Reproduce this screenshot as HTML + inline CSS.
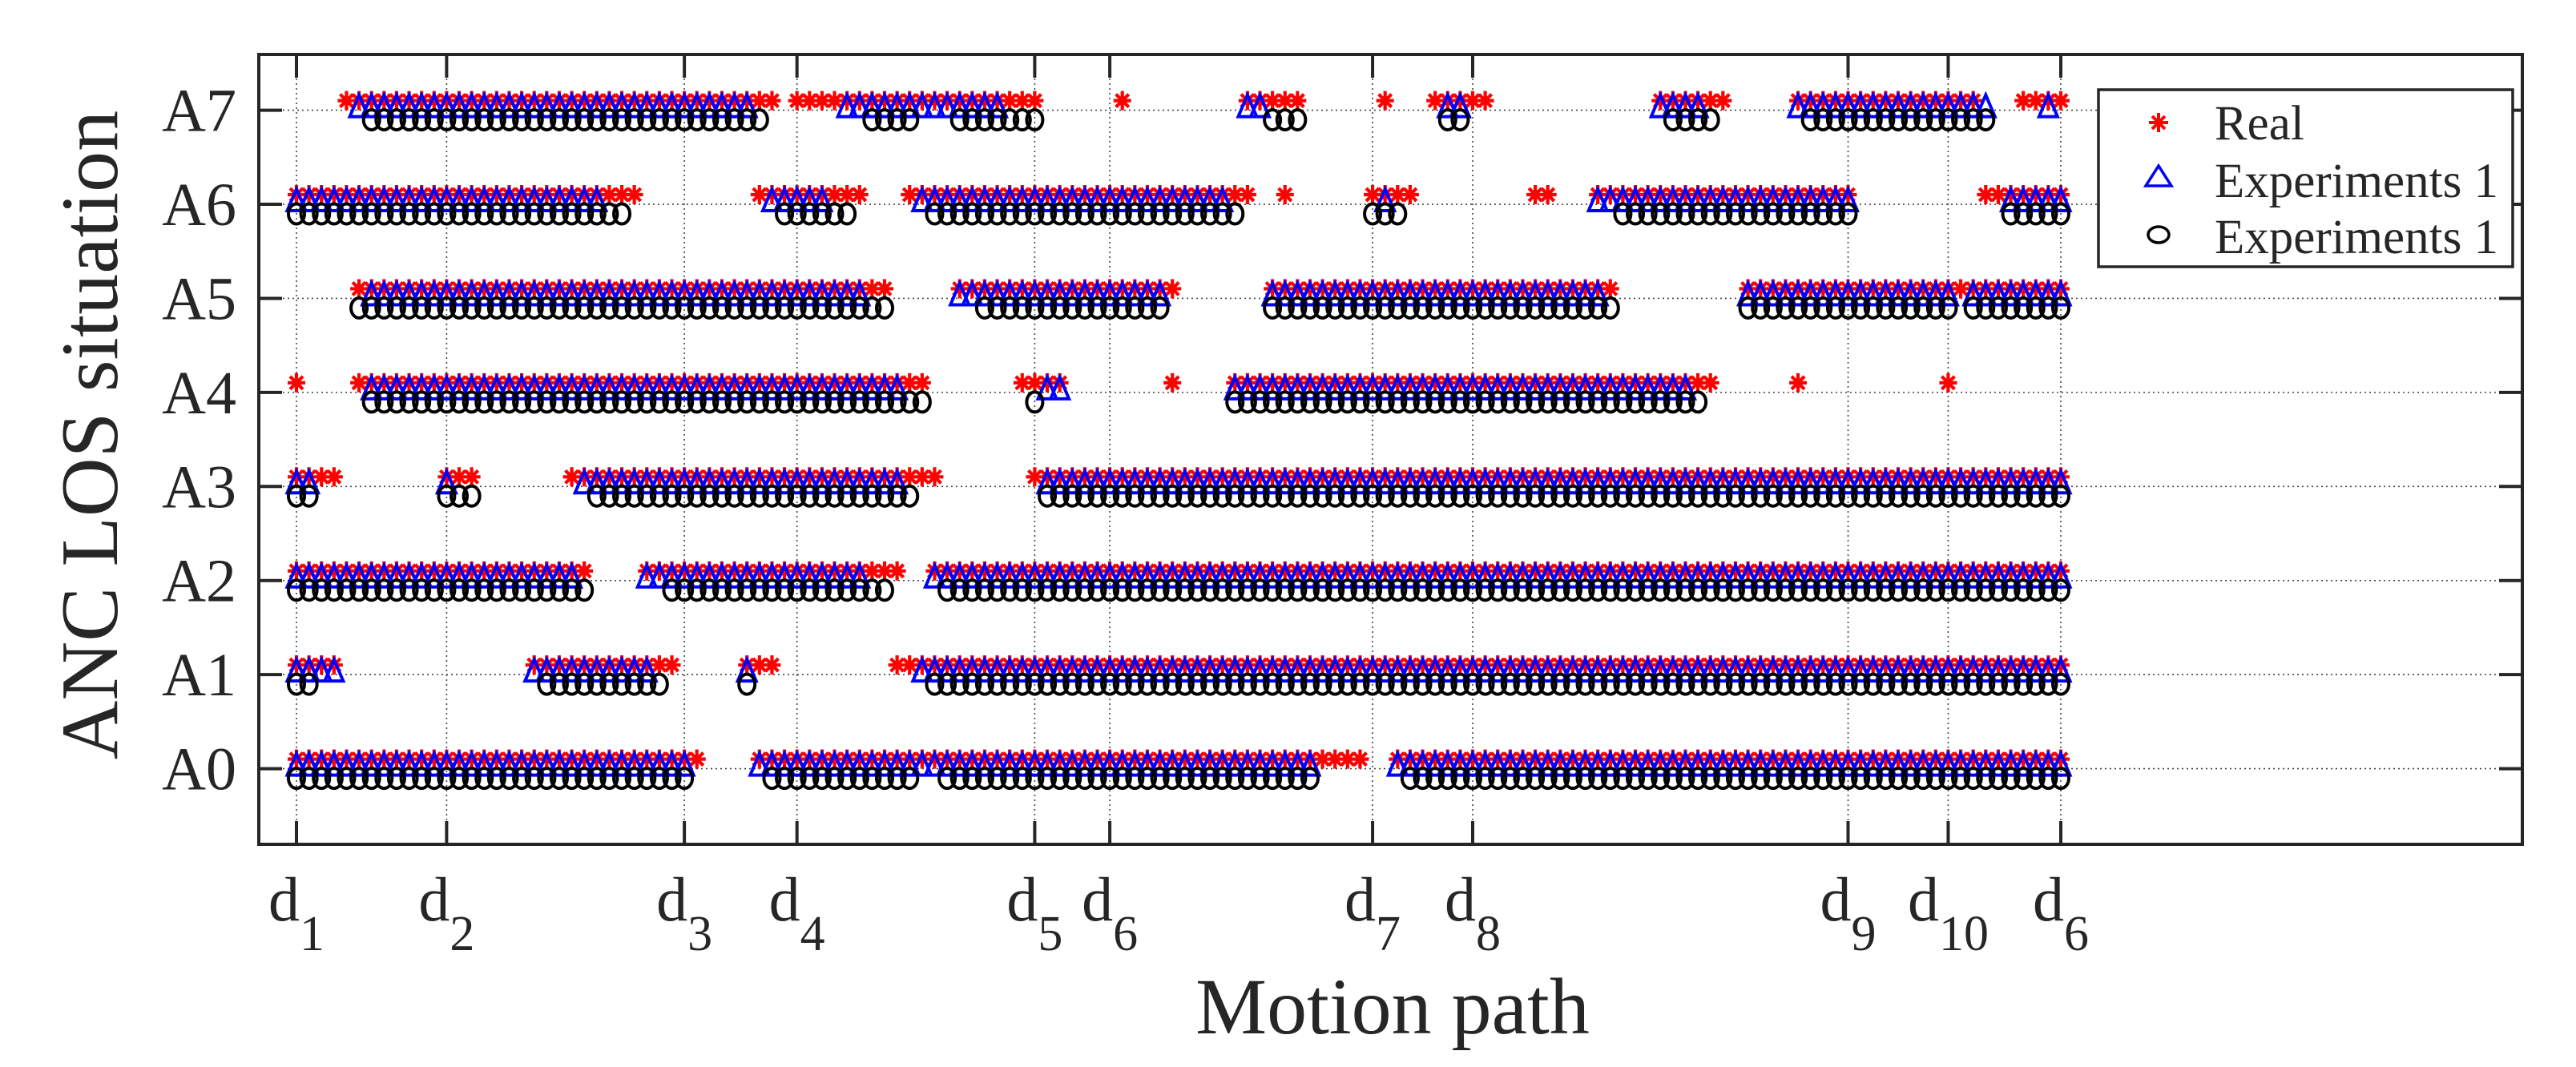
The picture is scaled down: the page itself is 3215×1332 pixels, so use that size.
<!DOCTYPE html>
<html><head><meta charset="utf-8">
<style>
html,body{margin:0;padding:0;background:#fff;}
svg{display:block;}
text{font-family:"Liberation Serif","Times New Roman",serif;fill:#262626;}
</style></head>
<body>
<svg id="s" width="3215" height="1332" viewBox="0 0 3215 1332" xmlns="http://www.w3.org/2000/svg">
<rect x="0" y="0" width="3215" height="1332" fill="#fff"/>
<g id="grid" stroke="#444" stroke-width="1.6" stroke-dasharray="2 4" fill="none"></g>
<g id="ticks" stroke="#262626" stroke-width="4" fill="none"></g>
<g id="stars" stroke="#ff0000" stroke-width="4.2" fill="none"></g>
<g id="tris" stroke="#0000ff" stroke-width="4" fill="none" stroke-linejoin="miter"></g>
<g id="circs" stroke="#000" stroke-width="4" fill="none"></g>
<rect x="323" y="68" width="2825" height="986" fill="none" stroke="#262626" stroke-width="4"/>
<g id="ylab" font-size="76" text-anchor="end"></g>
<g id="xlab" font-size="78" text-anchor="middle"></g>
<text x="0" y="0" font-size="102" text-anchor="middle" transform="translate(146,543) rotate(-90)">ANC LOS situation</text>
<text x="1738" y="1290" font-size="100" text-anchor="middle">Motion path</text>
<!-- legend -->
<rect x="2619" y="112" width="517" height="221" fill="#fff" stroke="#262626" stroke-width="3.5"/>
<g stroke="#ff0000" stroke-width="4">
<line x1="2682" y1="153" x2="2706" y2="153"/><line x1="2694" y1="141" x2="2694" y2="165"/>
<line x1="2686" y1="145" x2="2702" y2="161"/><line x1="2702" y1="145" x2="2686" y2="161"/>
</g>
<polygon points="2694,207 2710,232 2678,232" fill="none" stroke="#0000ff" stroke-width="3.5"/>
<ellipse cx="2694" cy="293" rx="13" ry="10" fill="none" stroke="#000" stroke-width="3.5"/>
<text x="2764" y="174" font-size="61">Real</text>
<text x="2764" y="246" font-size="61">Experiments 1</text>
<text x="2764" y="316" font-size="61">Experiments 1</text>
</svg>
<script>
(function(){
var NS="http://www.w3.org/2000/svg";
function el(p,t,a){var e=document.createElementNS(NS,t);for(var k in a)e.setAttribute(k,a[k]);document.getElementById(p).appendChild(e);return e;}
var L=323,R=3148,T=68,B=1054;
var X0=370,S=15.617;
function gy(r){return 959.6-r*117.43;}
var ticksX=[[0,"1"],[12,"2"],[31,"3"],[40,"4"],[59,"5"],[65,"6"],[86,"7"],[94,"8"],[124,"9"],[132,"10"],[141,"6"]];
for(var r=0;r<8;r++){
  var y=gy(r);
  el("grid","line",{x1:L,y1:y,x2:R,y2:y});
  el("ticks","line",{x1:L,y1:y,x2:L+29,y2:y});
  el("ticks","line",{x1:R-29,y1:y,x2:R,y2:y});
  var t=el("ylab","text",{x:295,y:y+26});t.textContent="A"+r;
}
ticksX.forEach(function(d){
  var x=X0+d[0]*S;
  el("grid","line",{x1:x,y1:T,x2:x,y2:B});
  el("ticks","line",{x1:x,y1:B,x2:x,y2:B-29});
  el("ticks","line",{x1:x,y1:T,x2:x,y2:T+29});
  var t=el("xlab","text",{x:x,y:1149});
  var a=document.createElementNS(NS,"tspan");a.textContent="d";t.appendChild(a);
  var b=document.createElementNS(NS,"tspan");b.setAttribute("dy","37");b.setAttribute("font-size","62");b.textContent=d[1];t.appendChild(b);
});
var D={
7:{R:[[429,965],[1001,1292],[1400,1400],[1558,1618],[1728,1728],[1784,1855],[2067,2152],[2239,2463],[2523,2572]],
   T:[[445,936],[1054,1243],[1556,1571],[1802,1820],[2067,2119],[2239,2478],[2555,2555]],
   C:[[460,949],[1089,1134],[1199,1290],[1589,1620],[1804,1822],[2085,2134],[2257,2480]]},
6:{R:[[365,793],[945,1067],[1134,1560],[1603,1603],[1712,1759],[1913,1931],[1991,2310],[2477,2572]],
   T:[[367,742],[960,1027],[1147,1531],[1728,1728],[1989,2312],[2508,2572]],
   C:[[367,775],[978,1060],[1165,1545],[1712,1744],[2025,2307],[2507,2572]]},
5:{R:[[445,1105],[1196,1464],[1585,2009],[2179,2572]],
   T:[[460,1067],[1194,1451],[1585,1996],[2179,2430],[2463,2572]],
   C:[[445,1105],[1228,1449],[1585,2009],[2179,2433],[2458,2572]]},
4:{R:[[369,369],[447,1154],[1275,1321],[1462,1462],[1540,2134],[2244,2244],[2430,2430]],
   T:[[460,1120],[1308,1324],[1540,2103]],
   C:[[460,1152],[1290,1290],[1540,2119]]},
3:{R:[[369,418],[556,590],[713,1165],[1290,2572]],
   T:[[369,385],[556,556],[726,1120],[1304,2572]],
   C:[[367,385],[556,588],[744,1136],[1308,2572]]},
2:{R:[[369,731],[809,1120],[1165,2572]],
   T:[[369,715],[804,1071],[1163,2572]],
   C:[[369,728],[840,1105],[1183,2572]]},
1:{R:[[369,418],[666,840],[931,963],[1118,2572]],
   T:[[369,416],[661,809],[931,931],[1147,2572]],
   C:[[369,385],[684,822],[931,931],[1165,2572]]},
0:{R:[[369,869],[947,1697],[1744,2572]],
   T:[[369,853],[947,1138],[1156,1638],[1739,2572]],
   C:[[369,851],[965,1138],[1176,1634],[1759,2572]]}
};
function idx(x){return Math.round((x-X0)/S);}
var sp="",tp="",cp="";
for(var r in D){
  var y=gy(+r);
  D[r].R.forEach(function(s){for(var i=idx(s[0]);i<=idx(s[1]);i++){var x=X0+i*S,c=y-12;
    sp+="M"+(x-11)+" "+c+"h22M"+x+" "+(c-12)+"v24M"+(x-8)+" "+(c-8)+"l16 16M"+(x+8)+" "+(c-8)+"l-16 16";}});
  D[r].T.forEach(function(s){for(var i=idx(s[0]);i<=idx(s[1]);i++){var x=X0+i*S;
    tp+="M"+x+" "+(y-19)+"L"+(x+11.5)+" "+(y+8)+"L"+(x-11.5)+" "+(y+8)+"Z";}});
  D[r].C.forEach(function(s){for(var i=idx(s[0]);i<=idx(s[1]);i++){var x=X0+i*S,c=y+12;
    cp+="M"+(x-10)+" "+c+"a10 12.5 0 1 0 20 0a10 12.5 0 1 0 -20 0";}});
}
el("stars","path",{d:sp});
el("tris","path",{d:tp});
el("circs","path",{d:cp});
})();
</script>
</body></html>
